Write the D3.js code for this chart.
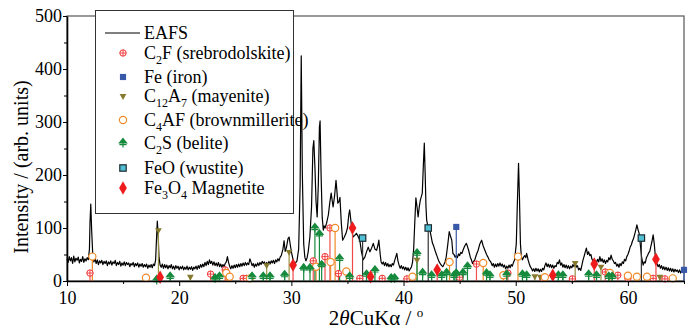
<!DOCTYPE html>
<html>
<head>
<meta charset="utf-8">
<script src="https://cdn.jsdelivr.net/npm/d3@7"></script>
</head>
<body style="margin:0">
<script>
// EAFS diffractogram: [2theta, intensity]
const eafs = [
  [10.0,42],[10.1,35],[10.2,46],[10.3,38],[10.4,44],[10.5,33],[10.6,47],[10.7,36],[10.8,43],[10.9,39],
  [11.0,45],[11.1,34],[11.2,41],[11.3,37],[11.4,46],[11.5,35],[11.6,42],[11.7,38],[11.8,44],[11.9,40],
  [12.0,60],[12.05,110],[12.12,145],[12.2,95],[12.3,48],
  [12.4,36],[12.5,42],[12.6,33],[12.7,40],[12.8,31],[12.9,38],[13.0,34],[13.1,39],[13.2,31],[13.3,37],
  [13.4,33],[13.5,38],[13.6,29],[13.7,36],[13.8,32],[13.9,38],[14.0,30],[14.1,36],[14.2,33],[14.3,39],
  [14.4,29],[14.5,35],[14.6,31],[14.7,37],[14.8,28],[14.9,34],[15.0,30],[15.1,36],[15.2,29],[15.3,35],
  [15.4,31],[15.5,34],[15.6,27],[15.7,33],[15.8,30],[15.9,35],[16.0,27],[16.1,33],[16.2,29],[16.3,34],
  [16.4,26],[16.5,32],[16.6,28],[16.7,33],[16.8,26],[16.9,31],[17.0,27],[17.1,32],[17.2,24],[17.3,30],
  [17.4,26],[17.5,31],[17.6,25],[17.7,32],[17.8,29],[17.9,40],
  [17.97,75],[18.05,113],[18.12,90],[18.2,45],[18.3,30],
  [18.4,26],[18.5,32],[18.6,24],[18.7,31],[18.8,25],[18.9,30],[19.0,23],[19.1,29],[19.2,25],[19.3,31],
  [19.4,23],[19.5,28],[19.6,22],[19.7,29],[19.8,24],[19.9,28],[20.0,21],[20.1,27],[20.2,23],[20.3,28],
  [20.4,21],[20.5,26],[20.6,22],[20.7,28],[20.8,21],[20.9,26],[21.0,22],[21.1,27],[21.2,20],[21.3,26],
  [21.4,23],[21.5,28],[21.6,22],[21.7,29],[21.8,24],[21.9,31],[22.0,26],
  [22.1,32],[22.2,27],[22.3,35],[22.4,29],[22.5,37],[22.6,31],[22.7,40],[22.8,33],[22.9,37],[23.0,30],
  [23.1,36],[23.2,29],[23.3,34],[23.4,28],[23.5,35],[23.6,27],[23.7,32],[23.8,26],[23.9,31],[24.0,27],
  [24.1,33],[24.2,36],[24.3,46],[24.4,35],[24.5,28],[24.6,23],[24.7,29],[24.8,24],[24.9,30],[25.0,25],
  [25.1,31],[25.2,26],[25.3,32],[25.4,27],[25.5,33],[25.6,28],[25.7,34],[25.8,29],[25.9,35],[26.0,30],
  [26.1,34],[26.2,31],[26.3,42],[26.4,36],[26.5,29],[26.6,33],[26.7,26],[26.8,32],[26.9,28],[27.0,34],
  [27.1,29],[27.2,35],[27.3,31],[27.4,37],[27.5,33],[27.6,36],[27.7,29],[27.8,35],[27.9,31],[28.0,37],
  [28.1,32],[28.2,38],[28.3,34],[28.4,39],[28.5,33],[28.6,40],[28.7,36],[28.8,42],[28.9,38],[29.0,45],
  [29.1,48],[29.25,60],[29.35,76],[29.45,56],[29.55,62],[29.7,80],[29.8,83],[29.92,66],
  [30.05,50],[30.2,36],[30.3,30],[30.4,35],[30.5,38],[30.65,60],[30.78,180],[30.88,425],[30.98,200],[31.1,70],[31.2,45],
  [31.3,38],[31.4,44],[31.5,55],[31.65,83],[31.8,140],[31.92,250],[32.0,265],[32.1,215],[32.2,150],[32.3,121],[32.4,180],
  [32.5,290],[32.56,302],[32.65,200],[32.75,120],[32.85,96],[32.92,104],[33.0,100],[33.14,109],[33.3,125],[33.42,147],[33.55,166],
  [33.65,150],[33.72,140],[33.85,160],[33.98,190],[34.06,170],[34.14,147],[34.25,150],[34.33,158],[34.45,110],[34.57,77],
  [34.7,82],[34.87,90],[35.0,100],[35.12,125],[35.2,134],[35.3,115],[35.4,95],[35.5,83],[35.65,86],[35.8,90],
  [35.95,84],[36.1,77],[36.25,55],[36.4,40],[36.55,45],[36.7,55],[36.85,64],[37.0,55],[37.15,62],[37.3,71],
  [37.45,60],[37.6,58],[37.7,66],[37.8,77],[37.92,50],[38.0,36],
  [38.1,32],[38.2,36],[38.3,29],[38.4,35],[38.5,28],[38.6,33],[38.7,27],[38.8,31],[38.9,27],[39.0,33],
  [39.1,30],[39.2,38],[39.3,45],[39.4,52],[39.5,38],[39.6,30],[39.7,24],[39.8,29],[39.9,23],[40.0,27],
  [40.1,21],[40.2,26],[40.3,20],[40.4,25],[40.5,19],[40.6,23],[40.7,26],[40.8,35],
  [40.9,60],[41.0,110],[41.1,157],[41.2,140],[41.3,121],[41.4,140],[41.5,153],[41.6,160],[41.67,166],
  [41.76,215],[41.85,260],[41.93,200],[42.0,140],[42.06,115],[42.2,100],[42.35,96],[42.45,85],[42.57,72],[42.7,65],
  [42.8,58],[42.9,52],[43.0,46],[43.1,40],[43.2,35],[43.3,32],[43.4,29],[43.5,27],[43.6,31],[43.7,36],[43.8,45],
  [43.95,70],[44.07,93],[44.18,85],[44.3,77],[44.4,52],[44.5,50],[44.6,45],[44.7,48],[44.8,44],[44.9,51],
  [45.0,48],[45.1,54],[45.2,52],[45.3,58],[45.45,66],[45.6,71],[45.7,65],[45.8,58],[45.95,45],[46.05,40],
  [46.15,33],[46.25,37],[46.35,40],[46.5,50],[46.65,58],[46.8,70],[46.96,77],[47.1,66],[47.25,58],[47.4,50],
  [47.5,46],[47.63,40],[47.7,38],
  [47.8,35],[47.9,29],[48.0,33],[48.1,26],[48.2,32],[48.3,27],[48.4,33],[48.5,28],[48.6,34],[48.7,28],
  [48.8,32],[48.9,26],[49.0,30],[49.1,23],[49.2,28],[49.3,24],[49.4,30],[49.5,25],[49.6,31],[49.7,28],
  [49.8,35],[49.9,40],[50.05,70],[50.15,150],[50.25,222],[50.33,160],[50.42,70],[50.5,46],[50.6,40],[50.7,45],
  [50.8,48],[50.9,44],[50.97,52],[51.05,45],
  [51.1,40],[51.2,33],[51.3,27],[51.4,24],[51.5,19],[51.6,23],[51.7,18],[51.8,24],[51.9,19],[52.0,23],
  [52.1,17],[52.2,22],[52.3,18],[52.4,24],[52.5,21],[52.6,29],[52.7,34],[52.8,27],[52.9,32],[53.0,26],
  [53.1,31],[53.2,25],[53.3,30],[53.4,24],[53.5,29],[53.6,27],[53.7,35],[53.8,33],[53.9,40],[54.0,30],
  [54.1,34],[54.2,26],[54.3,31],[54.4,25],[54.5,30],[54.6,24],[54.7,29],[54.8,23],[54.9,28],[55.0,25],
  [55.1,31],[55.2,27],[55.3,34],[55.4,26],[55.5,29],[55.6,21],[55.7,24],[55.8,20],[55.9,30],[56.0,40],
  [56.1,47],[56.2,55],[56.3,62],[56.4,50],[56.5,55],[56.6,48],[56.7,50],[56.8,41],[56.9,38],[57.0,33],
  [57.1,39],[57.2,35],[57.3,41],[57.4,36],[57.5,46],[57.6,37],[57.7,42],[57.8,35],[57.9,40],[58.0,33],
  [58.1,39],[58.2,36],[58.3,44],[58.4,40],[58.5,49],[58.6,41],[58.7,38],[58.8,33],[58.9,35],[59.0,28],
  [59.1,32],[59.2,26],[59.3,33],[59.4,29],[59.5,36],[59.6,33],[59.7,41],[59.8,38],[59.9,46],[60.0,50],
  [60.1,56],[60.2,64],[60.3,68],[60.4,75],[60.5,80],[60.6,88],[60.7,96],[60.8,106],[60.9,97],[61.0,90],
  [61.1,70],[61.22,45],[61.36,30],[61.45,36],[61.55,34],[61.65,44],[61.75,48],[61.85,53],[61.95,56],[62.05,66],
  [62.15,75],[62.25,87],[62.35,70],[62.45,45],[62.55,34],
  [62.6,32],[62.7,27],[62.8,31],[62.9,24],[63.0,29],[63.1,22],[63.2,27],[63.3,21],[63.4,26],[63.5,20],
  [63.6,25],[63.7,19],[63.8,24],[63.9,18],[64.0,23],[64.1,17],[64.2,22],[64.3,18],[64.4,21],[64.5,16],
  [64.6,21],[64.7,15],[64.8,20],[64.9,16],[65.0,18]
]

// reference phase sticks: [2theta, marker height]
const c2f = [[12.05,15],[22.8,13],[24.1,21],[25.7,5],[26.0,5],[31.95,38],[33.0,46],[33.44,100],[34.2,14],[36.1,5],
  [38.1,5],[40.3,4],[45.0,7],[46.5,32],[49.3,15],[52.4,5],[55.05,4],[57.98,17],[59.1,11],[60.0,5],[62.25,5],[63.3,4]]
const fe = [[44.7,102],[65.0,21]]
const c12a7 = [[18.15,96],[21.0,8],[27.8,30],[29.8,55],[41.2,40],[51.7,9],[52.2,8],[55.3,34],[57.6,27],[62.85,8]]
const c4af = [[12.26,46],[17.04,6],[24.2,15],[24.5,8],[26.3,5],[32.2,27],[33.5,36],[33.9,100],[34.9,18],[40.8,8],
  [44.1,36],[47.1,34],[48.9,11],[50.2,46],[52.6,7],[58.4,15],[60.0,10],[60.8,8],[61.7,8],[64.0,5]]
const c2s = [[18.0,2],[19.2,8],[23.2,5],[23.6,8],[26.5,8],[27.5,8],[28.1,8],[29.4,11],[31.1,24],[31.66,24],
  [32.1,100],[32.5,88],[32.7,30],[34.3,42],[35.2,8],[36.7,12],[37.45,20],[38.9,5],[39.2,5],[41.2,52],
  [41.7,15],[42.5,10],[43.4,10],[43.84,15],[44.5,10],[44.7,14],[45.3,15],[45.7,27],[47.4,14],[47.7,10],
  [49.2,12],[50.6,12],[50.97,10],[53.8,10],[54.2,10],[56.5,12],[57.2,10],[58.3,8],[58.6,8]]
const feo = [[36.35,81],[42.2,100],[61.2,81]]
const fe3o4 = [[18.3,7],[30.15,30],[35.45,100],[37.06,8],[43.0,21],[53.3,11],[57.0,32],[62.5,41]]

const yTicks = [0, 100, 200, 300, 400, 500]
const xTicks = [10, 20, 30, 40, 50, 60]

const width = 691
const height = 331
const FONT = '"Liberation Serif"'

const x = d3.scaleLinear().domain([10, 65]).range([67, 684])
const y = d3.scaleLinear().domain([0, 500]).range([281, 16])

const svg = d3.select('body').append('svg')
    .attr('width', width)
    .attr('height', height)

// frame
svg.append('rect')
    .attr('x', x(10)).attr('y', y(500))
    .attr('width', x(65) - x(10)).attr('height', y(0) - y(500))
    .attr('fill', 'none').attr('stroke', '#555').attr('stroke-width', 1.2)

// pattern line
svg.append('path')
    .datum(eafs)
    .attr('fill', 'none')
    .attr('stroke', '#000')
    .attr('stroke-width', 1.2)
    .attr('stroke-linejoin', 'round')
    .attr('d', d3.line().x(d => x(d[0])).y(d => y(d[1])))

const sym = (type, size) => d3.symbol().type(type).size(size)()

const phases = [
  {data: c2f, stick: '#f05050',
    draw: g => {
      g.append('circle').attr('r', 3.2).attr('fill', '#fff').attr('stroke', '#f03030').attr('stroke-width', 1)
      g.append('path').attr('d', 'M-3.2,0H3.2M0,-3.2V3.2').attr('stroke', '#f03030').attr('stroke-width', 0.9)
    }},
  {data: fe, stick: '#3858a8',
    draw: g => g.append('path').attr('d', sym(d3.symbolSquare, 38)).attr('fill', '#3858a8')},
  {data: c12a7, stick: '#9a9040',
    draw: g => g.append('path').attr('d', sym(d3.symbolTriangle, 20)).attr('transform', 'rotate(180)').attr('fill', '#857a2e')},
  {data: c4af, stick: '#f08a28',
    draw: g => g.append('circle').attr('r', 3.6).attr('fill', '#fff').attr('stroke', '#f08a28').attr('stroke-width', 1.2)},
  {data: c2s, stick: '#168a3c',
    draw: g => g.append('path').attr('d', 'M0,-4.5L3.6,0H-3.6Z M-3.6,1.6H3.6 M0,0V4.5').attr('fill', '#168a3c')
      .attr('stroke', '#168a3c').attr('stroke-width', 1.2)},
  {data: feo, stick: '#333',
    draw: g => g.append('rect').attr('x', -3.2).attr('y', -3.2).attr('width', 6.4).attr('height', 6.4)
      .attr('fill', '#52c0d4').attr('stroke', '#1a2a30').attr('stroke-width', 1.2)},
  {data: fe3o4, stick: '#f04848',
    draw: g => g.append('path').attr('d', sym(d3.symbolDiamond, 52)).attr('fill', '#ee1c1c')},
]

// sticks first, then markers on top
for (const p of phases) {
  svg.append('g').selectAll('line')
    .data(p.data)
    .join('line')
      .attr('x1', d => x(d[0])).attr('x2', d => x(d[0]))
      .attr('y1', d => y(d[1])).attr('y2', y(0))
      .attr('stroke', p.stick).attr('stroke-width', 1.2)
}
for (const p of phases) {
  svg.append('g').selectAll('g')
    .data(p.data)
    .join('g')
      .attr('transform', d => `translate(${x(d[0])},${y(d[1])})`)
      .each(function () { p.draw(d3.select(this)) })
}

// axes
const axisStyle = g => {
  g.attr('font-size', 18).attr('font-family', null)
  g.selectAll('.domain').attr('stroke', '#000').attr('stroke-width', 1.6)
  g.selectAll('.tick line').attr('stroke', '#000').attr('stroke-width', 1)
  g.selectAll('.tick text').attr('fill', '#000')
}

svg.append('g')
    .attr('transform', `translate(${x(10)},0)`)
    .call(d3.axisLeft(y).tickValues(yTicks).tickSize(4).tickSizeOuter(0).tickPadding(1))
    .call(axisStyle)
svg.append('g')
    .attr('transform', `translate(${x(10)},0)`)
    .call(d3.axisLeft(y).tickValues([50, 150, 250, 350, 450]).tickSize(3).tickFormat(''))
    .call(g => g.select('.domain').remove())

svg.append('g')
    .attr('transform', `translate(0,${y(0)})`)
    .call(d3.axisBottom(x).tickValues(xTicks).tickSize(5).tickSizeOuter(0).tickPadding(5))
    .call(axisStyle)
svg.append('g')
    .attr('transform', `translate(0,${y(0)})`)
    .call(d3.axisBottom(x).tickValues([15, 25, 35, 45, 55, 65]).tickSize(3).tickFormat(''))
    .call(g => g.select('.domain').remove())

// axis titles
svg.append('text')
    .attr('transform', 'translate(28,167) rotate(-90)')
    .attr('text-anchor', 'middle')
    .attr('font-size', 20)
    .text('Intensity / (arb. units)')

const xt = svg.append('text')
    .attr('x', 376).attr('y', 325)
    .attr('text-anchor', 'middle')
    .attr('font-size', 21)
xt.append('tspan').text('2')
xt.append('tspan').attr('font-style', 'italic').text('θ')
xt.append('tspan').text('CuKα / ')
xt.append('tspan').attr('font-size', 13).attr('dy', -8).text('o')

// legend
const legend = svg.append('g')
legend.append('rect')
    .attr('x', 95.5).attr('y', 10.5).attr('width', 198).attr('height', 203)
    .attr('fill', '#fff').attr('stroke', '#333').attr('stroke-width', 1)

legend.append('line')
    .attr('x1', 105).attr('x2', 140).attr('y1', 33).attr('y2', 33)
    .attr('stroke', '#000').attr('stroke-width', 1.1)
legend.append('text').attr('x', 144).attr('y', 39).attr('font-size', 18).text('EAFS')

// label pieces: [text, isSubscript]
const labels = [
  [['C', 0], ['2', 1], ['F (srebrodolskite)', 0]],
  [['Fe (iron)', 0]],
  [['C', 0], ['12', 1], ['A', 0], ['7', 1], [' (mayenite)', 0]],
  [['C', 0], ['4', 1], ['AF (brownmillerite)', 0]],
  [['C', 0], ['2', 1], ['S (belite)', 0]],
  [['FeO (wustite)', 0]],
  [['Fe', 0], ['3', 1], ['O', 0], ['4', 1], [' Magnetite', 0]],
]
const rowY = [53, 77, 96, 120, 143, 168, 188]

phases.forEach((p, i) => {
  const g = legend.append('g').attr('transform', `translate(123,${rowY[i]})`)
  p.draw(g)
  const t = legend.append('text').attr('x', 144).attr('y', rowY[i] + 6).attr('font-size', 18)
  let sub = false
  for (const [s, isSub] of labels[i]) {
    const dy = isSub && !sub ? 5 : !isSub && sub ? -5 : 0
    t.append('tspan').attr('dy', dy).attr('font-size', isSub ? 12 : 18).text(s)
    sub = !!isSub
  }
})

svg.selectAll('text').style('font-family', FONT, 'important')
</script>
</body>
</html>
